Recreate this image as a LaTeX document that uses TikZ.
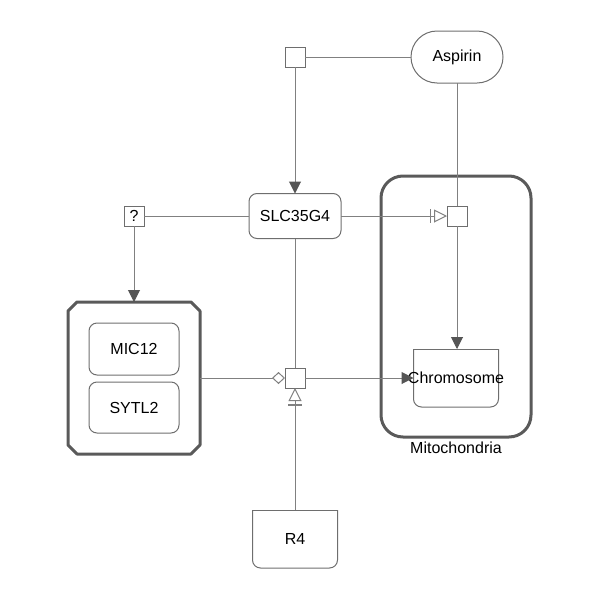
\documentclass[tikz,border=0pt]{standalone}
\usepackage{fontspec}
\setmainfont{Liberation Sans}
\usetikzlibrary{arrows.meta,shapes.misc,calc}
\definecolor{ln}{HTML}{808080}
\definecolor{bd}{HTML}{6E6E6E}
\definecolor{cp}{HTML}{5A5A5A}
\definecolor{ah}{HTML}{555555}
\begin{document}
\begin{tikzpicture}[x=1pt,y=-1pt,
  every node/.style={font=\fontsize{16}{19}\selectfont, inner sep=0pt, outer sep=0pt},
  proc/.style={draw=bd, line width=1pt, fill=white, minimum size=20pt},
  macro/.style={draw=bd, line width=1pt, rounded corners=8pt},
  conn/.style={draw=ln, line width=1pt},
  prod/.style={conn, -{Triangle[length=12pt,width=12pt,color=ah]}},
  nec/.style={conn, -{Bar[width=14pt,line width=1.5pt,sep=3pt,color=ln] Triangle[open,length=13pt,width=13pt,fill=white,color=ln]}},
  mod/.style={conn, -{Diamond[open,length=13pt,width=12pt,fill=white,color=ln]}},
  nabox/.style={minimum width=85pt, minimum height=58pt}
]
\useasboundingbox (0,0) rectangle (600,600);

% compartment
\node[draw=cp, line width=3pt, rounded corners=22pt, minimum width=150pt, minimum height=261pt] (mito) at (456,306.5) {};
\node (mitolbl) at (456,448) {Mitochondria};

% complex
\node[minimum width=132pt, minimum height=152pt] (cplx) at (134,378) {};
\draw[draw=cp, line width=3pt, line join=round]
  ($(cplx.north west)+(9,0)$) -- ($(cplx.north east)+(-9,0)$) -- ($(cplx.north east)+(0,9)$)
  -- ($(cplx.south east)+(0,-9)$) -- ($(cplx.south east)+(-9,0)$) -- ($(cplx.south west)+(9,0)$)
  -- ($(cplx.south west)+(0,-9)$) -- ($(cplx.north west)+(0,9)$) -- cycle;
\node[macro, minimum width=90pt, minimum height=52pt] (mic) at (134,349) {MIC12};
\node[macro, minimum width=90pt, minimum height=51pt] (sytl) at (134,407.5) {SYTL2};

% entities
\node[draw=bd, line width=1pt, rounded rectangle, minimum width=92pt, minimum height=52pt] (asp) at (457,57) {Aspirin};
\node[macro, minimum width=92pt, minimum height=45pt] (slc) at (295,216) {SLC35G4};
\node[nabox] (chr) at (456,378) {};
\draw[draw=bd, line width=1pt, rounded corners=8pt] (chr.north west) -- (chr.south west) -- (chr.south east) -- (chr.north east);
\draw[draw=bd, line width=1pt] (chr.north west) -- (chr.north east);
\node (chrlbl) at (chr.center) {Chromosome};
\node[nabox] (r4) at (295,539) {};
\draw[draw=bd, line width=1pt, rounded corners=8pt] (r4.north west) -- (r4.south west) -- (r4.south east) -- (r4.north east);
\draw[draw=bd, line width=1pt] (r4.north west) -- (r4.north east);
\node (r4lbl) at (r4.center) {R4};

% process nodes
\node[proc] (p1) at (295,57) {};
\node[proc] (q) at (134,216) {?};
\node[proc] (p2) at (457,216) {};
\node[proc] (p3) at (295,378) {};

% connectors
\draw[conn] (p1) -- (asp);
\draw[prod] (p1) -- (slc);
\draw[conn] (q) -- (slc);
\draw[prod] (q) -- (cplx);
\draw[nec] (slc) -- (p2);
\draw[conn] (asp) -- (p2);
\draw[prod] (p2) -- (p2 |- chr.north);
\draw[conn] (slc) -- (p3);
\draw[mod] (cplx) -- (p3);
\draw[prod] (p3) -- (p3 -| chr.west);
\draw[nec] (r4) -- (p3);
\end{tikzpicture}
\end{document}
